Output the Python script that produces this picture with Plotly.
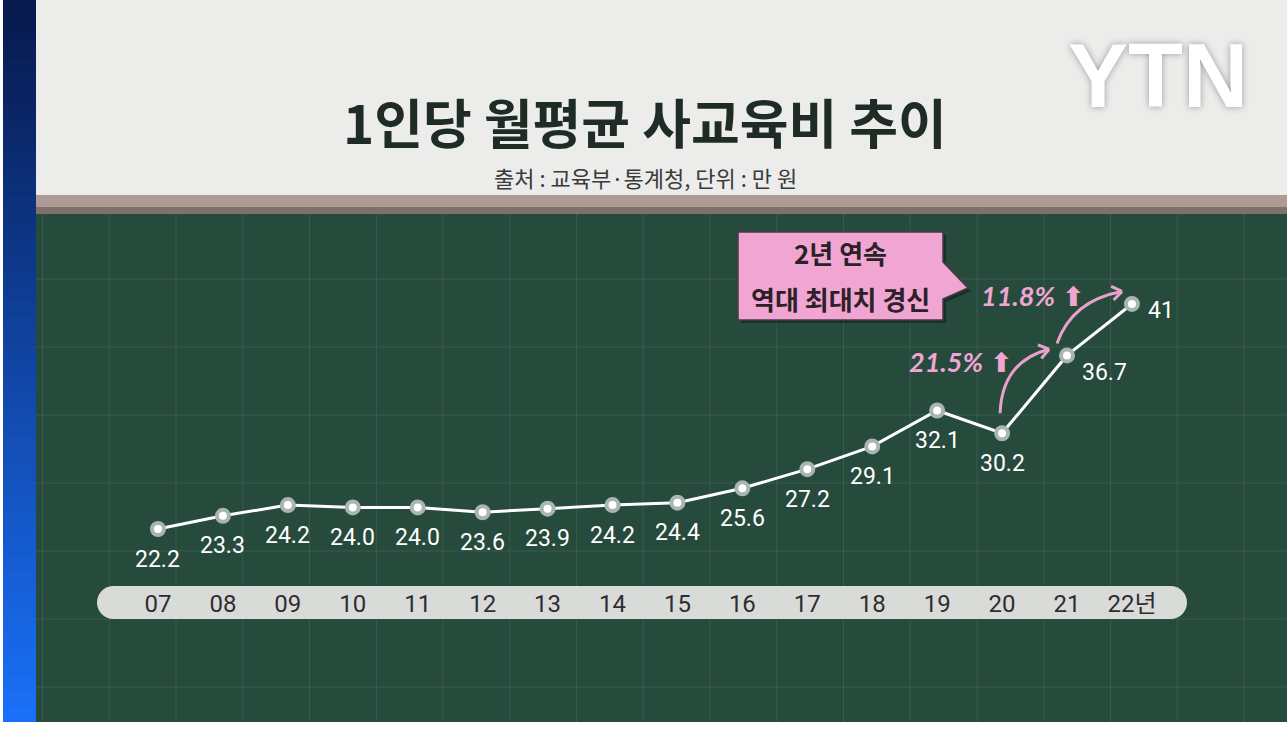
import math
import plotly.graph_objects as go

# ---------------- data ----------------
years = list(range(2007, 2023))
year_labels = ["07", "08", "09", "10", "11", "12", "13", "14", "15", "16",
               "17", "18", "19", "20", "21", "22년"]
spending = [22.2, 23.3, 24.2, 24.0, 24.0, 23.6, 23.9, 24.2, 24.4, 25.6,
            27.2, 29.1, 32.1, 30.2, 36.7, 41.0]
spending_labels = ["22.2", "23.3", "24.2", "24.0", "24.0", "23.6", "23.9", "24.2",
                   "24.4", "25.6", "27.2", "29.1", "32.1", "30.2", "36.7", "41"]
growth_years = [2021, 2022]
growth_labels = ["21.5%", "11.8%"]
title_text = "1인당 월평균 사교육비 추이"
subtitle_text = "출처 : 교육부·통계청, 단위 : 만 원"
callout_lines = ["2년 연속", "역대 최대치 경신"]
brand_text = "YTN"

# ---------------- geometry / style ----------------
W, H = 1287, 733
X_RANGE = [2004.567, 2024.388]
Y_RANGE = [5.157, 66.394]

BOARD = "rgb(38,74,60)"
GRID = "rgba(170,205,185,0.13)"
PINK = "#f1a5d3"
PINK_LINE = "#e8a2c9"

def xpx(v):
    return (v - X_RANGE[0]) / (X_RANGE[1] - X_RANGE[0]) * W

def ypx(v):
    return (Y_RANGE[1] - v) / (Y_RANGE[1] - Y_RANGE[0]) * H

def PX(px):
    return px / W

def PY(py):
    return 1 - py / H

def rect(x0, y0, x1, y1, color):
    return dict(type="rect", xref="paper", yref="paper",
                x0=PX(x0), x1=PX(x1), y0=PY(y1), y1=PY(y0),
                fillcolor=color, line=dict(width=0), layer="below")

def hline(y, x0, x1, color, width=1):
    return dict(type="line", xref="paper", yref="paper",
                x0=PX(x0), x1=PX(x1), y0=PY(y), y1=PY(y),
                line=dict(color=color, width=width), layer="below")

def vline(x, y0, y1, color, width=1):
    return dict(type="line", xref="paper", yref="paper",
                x0=PX(x), x1=PX(x), y0=PY(y0), y1=PY(y1),
                line=dict(color=color, width=width), layer="below")

def pp(x, y):
    return f"{PX(x):.5f},{PY(y):.5f}"

shapes = []
shapes.append(rect(0, 0, W, H, "white"))
shapes.append(rect(36, 0, W, 196, "rgb(236,236,235)"))
shapes.append(rect(36, 195, W, 207, "rgb(172,156,149)"))
shapes.append(rect(36, 207, W, 214, "rgb(128,112,106)"))
shapes.append(rect(36, 214, W, 722, BOARD))
gx = 42.5
while gx < W:
    shapes.append(vline(gx, 214, 722, GRID))
    gx += 66.75
gy = 279
while gy < 722:
    shapes.append(hline(gy, 36, W, GRID))
    gy += 68

n_bands = 48
top_c = (8, 26, 78)
bot_c = (26, 112, 248)
for i in range(n_bands):
    t = i / (n_bands - 1)
    c = tuple(int(top_c[k] + (bot_c[k] - top_c[k]) * t) for k in range(3))
    y0 = 722 * i / n_bands
    y1 = min(722 * (i + 1) / n_bands + 2, 722)
    shapes.append(rect(3, y0, 36, y1, f"rgb{c}"))

pl, pr, pt_, pb = 97, 1187, 586, 619
r = (pb - pt_) / 2
mid = (pt_ + pb) / 2
k = 0.5523 * r
pill_path = (f"M {pp(pl + r, pt_)} L {pp(pr - r, pt_)} "
             f"C {pp(pr - r + k, pt_)} {pp(pr, mid - k)} {pp(pr, mid)} "
             f"C {pp(pr, mid + k)} {pp(pr - r + k, pb)} {pp(pr - r, pb)} "
             f"L {pp(pl + r, pb)} "
             f"C {pp(pl + r - k, pb)} {pp(pl, mid + k)} {pp(pl, mid)} "
             f"C {pp(pl, mid - k)} {pp(pl + r - k, pt_)} {pp(pl + r, pt_)} Z")
shapes.append(dict(type="path", xref="paper", yref="paper", path=pill_path,
                   fillcolor="rgb(217,219,217)", line=dict(width=0), layer="below"))

def callout_path(dx=0, dy=0):
    pts = [(738, 232), (943, 232), (943, 262), (968, 288), (943, 299), (943, 320), (738, 320)]
    pts = [(x + dx, y + dy) for x, y in pts]
    return "M " + " L ".join(pp(x, y) for x, y in pts) + " Z"

shapes.append(dict(type="path", xref="paper", yref="paper", path=callout_path(3, 3),
                   fillcolor="rgba(0,0,0,0.35)", line=dict(width=0), layer="above"))
shapes.append(dict(type="path", xref="paper", yref="paper", path=callout_path(),
                   fillcolor=PINK, line=dict(color="#4a3a42", width=1.5), layer="above"))

def curved_arrow(base_idx, start, ctrl, end):
    bx, by = xpx(years[base_idx]), ypx(spending[base_idx])
    s = (bx + start[0], by + start[1])
    c = (bx + ctrl[0], by + ctrl[1])
    e = (bx + end[0], by + end[1])
    out = [dict(type="path", xref="paper", yref="paper",
                path=f"M {pp(*s)} Q {pp(*c)} {pp(*e)}",
                line=dict(color=PINK_LINE, width=3), layer="above")]
    dx, dy = c[0] - e[0], c[1] - e[1]
    L = (dx * dx + dy * dy) ** 0.5
    ux, uy = dx / L, dy / L
    for ang in (0.62, -0.62):
        ca, sa = math.cos(ang), math.sin(ang)
        wx, wy = ux * ca - uy * sa, ux * sa + uy * ca
        out.append(dict(type="line", xref="paper", yref="paper",
                        x0=PX(e[0]), y0=PY(e[1]),
                        x1=PX(e[0] + wx * 12), y1=PY(e[1] + wy * 12),
                        line=dict(color=PINK_LINE, width=3), layer="above"))
    return out

shapes += curved_arrow(13, (-2, -20), (0, -72), (47, -84))
shapes += curved_arrow(14, (-10, -12), (5, -55), (55, -64))

# ---------------- figure ----------------
fig = go.Figure()
fig.add_trace(go.Scatter(
    x=years, y=spending, mode="lines+markers",
    line=dict(color="white", width=3),
    marker=dict(size=12, color="white", line=dict(width=4, color="#a9b6af")),
    hoverinfo="skip", showlegend=False,
))

annotations = []
label_font = dict(family="Roboto, Noto Sans CJK KR, sans-serif", size=23, color="white")
special = {2021: (37, -17, "center"), 2022: (14, -7, "left")}
for yr, v, t in zip(years, spending, spending_labels):
    xs, ys, xa = special.get(yr, (0, -30, "center"))
    annotations.append(dict(x=yr, y=v, xref="x", yref="y", text=t, showarrow=False,
                            xshift=xs, yshift=ys, xanchor=xa, yanchor="middle",
                            font=label_font))

growth_pos = {2021: (-106, -6), 2022: (-99, 8)}
for yr, g in zip(growth_years, growth_labels):
    v = spending[years.index(yr)]
    xs, ys = growth_pos[yr]
    annotations.append(dict(x=yr, y=v, xref="x", yref="y", text=f"<i><b>{g}</b></i> <b>⬆</b>",
                            showarrow=False, xshift=xs, yshift=ys,
                            xanchor="center", yanchor="middle",
                            font=dict(family="Lato, DejaVu Sans, sans-serif", size=27, color=PINK)))

annotations.append(dict(x=PX(645), y=PY(121), xref="paper", yref="paper", text=title_text,
                        showarrow=False, xanchor="center", yanchor="middle",
                        font=dict(family="Noto Sans CJK KR", size=53, color="#1f2c26", weight=700)))
annotations.append(dict(x=PX(646), y=PY(177), xref="paper", yref="paper", text=subtitle_text,
                        showarrow=False, xanchor="center", yanchor="middle",
                        font=dict(family="Noto Sans CJK KR", size=22, color="#3a3a3a")))
annotations.append(dict(x=PX(1158), y=PY(76), xref="paper", yref="paper", text=f"<b>{brand_text}</b>",
                        showarrow=False, xanchor="center", yanchor="middle",
                        font=dict(family="Liberation Sans, Arial, sans-serif", size=90, color="white",
                                  shadow="0px 0px 7px rgba(0,0,0,0.35)")))
for i, line in enumerate(callout_lines):
    annotations.append(dict(x=PX(840), y=PY(253 + 45 * i), xref="paper", yref="paper", text=line,
                            showarrow=False, xanchor="center", yanchor="middle",
                            font=dict(family="Noto Sans CJK KR", size=26, color="#2a2226", weight=700)))

fig.update_layout(
    width=W, height=H,
    margin=dict(l=0, r=0, t=0, b=0),
    paper_bgcolor="white",
    plot_bgcolor="rgba(0,0,0,0)",
    shapes=shapes,
    annotations=annotations,
    xaxis=dict(range=X_RANGE, tickmode="array", tickvals=years, ticktext=year_labels,
               showgrid=False, zeroline=False, showline=False, ticks="",
               anchor="free", position=PY(587),
               tickfont=dict(family="Roboto, Noto Sans CJK KR, sans-serif", size=24, color="#2e2e2e"),
               fixedrange=True),
    yaxis=dict(range=Y_RANGE, visible=False, fixedrange=True),
    showlegend=False,
)

fig.write_html("out.html", config=dict(displayModeBar=False),
               post_script="document.body.style.margin='0px';document.body.style.overflow='hidden';")
